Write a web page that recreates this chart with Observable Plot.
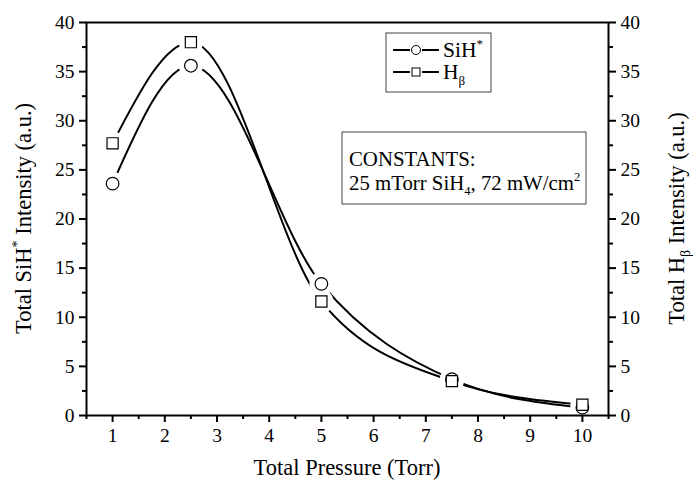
<!DOCTYPE html>
<html><head><meta charset="utf-8">
<script src="https://cdn.jsdelivr.net/npm/d3@7"></script>
<script src="https://cdn.jsdelivr.net/npm/@observablehq/plot@0.6"></script>
<style>
body{margin:0;background:#fff}
svg, svg text, svg tspan{font-family:"Liberation Serif","Times New Roman",serif !important}
</style>
</head><body><div id="chart"></div>
<script>
const pressure = [1, 2.5, 5, 7.5, 10];
const sihValues = [23.6, 35.6, 13.4, 3.7, 0.8];
const hbetaValues = [27.7, 38.0, 11.6, 3.5, 1.1];
const xTicks = [1, 2, 3, 4, 5, 6, 7, 8, 9, 10];
const xMinorTicks = [0.5, 1.5, 2.5, 3.5, 4.5, 5.5, 6.5, 7.5, 8.5, 9.5, 10.5];
const yTicks = [0, 5, 10, 15, 20, 25, 30, 35, 40];
const yMinorTicks = [2.5, 7.5, 12.5, 17.5, 22.5, 27.5, 32.5, 37.5];

const sih = pressure.map((x, i) => ({x, y: sihValues[i]}));
const hb = pressure.map((x, i) => ({x, y: hbetaValues[i]}));

const W = 697, H = 484, mL = 86, mR = 89, mT = 22, mB = 69;

const chart = Plot.plot({
  width: W, height: H,
  marginLeft: mL, marginRight: mR, marginTop: mT, marginBottom: mB,
  style: {fontFamily: "'Liberation Serif', serif", fontSize: "19.5px", color: "#000", background: "#fff", overflow: "visible"},
  x: {domain: [0.5, 10.5]},
  y: {domain: [0, 40]},
  marks: [
    Plot.line(sih, {x: "x", y: "y", curve: "monotone-x", stroke: "#000", strokeWidth: 2}),
    Plot.line(hb, {x: "x", y: "y", curve: "monotone-x", stroke: "#000", strokeWidth: 2}),
    Plot.dot(sih, {x: "x", y: "y", r: 12, fill: "white", stroke: "none"}),
    Plot.dot(hb, {x: "x", y: "y", r: 12, fill: "white", stroke: "none"}),
    Plot.dot(sih, {x: "x", y: "y", r: 6.3, fill: "white", stroke: "#000", strokeWidth: 1.2}),
    Plot.dot(hb, {x: "x", y: "y", symbol: "square", r: 6.3, fill: "white", stroke: "#000", strokeWidth: 1.2}),
    Plot.axisX({ticks: xTicks, tickSize: 7, tickPadding: 6, strokeWidth: 2, label: null, fontSize: 19.5}),
    Plot.axisX({ticks: xMinorTicks, tickSize: 4, strokeWidth: 2, tickFormat: () => "", label: null}),
    Plot.axisY({ticks: yTicks, anchor: "left", tickSize: 7, tickPadding: 5, strokeWidth: 2, label: null, fontSize: 19.5}),
    Plot.axisY({ticks: yMinorTicks, anchor: "left", tickSize: 4, strokeWidth: 2, tickFormat: () => "", label: null}),
    Plot.axisY({ticks: yTicks, anchor: "right", tickSize: 7, tickPadding: 5, strokeWidth: 2, label: null, fontSize: 19.5}),
    Plot.axisY({ticks: yMinorTicks, anchor: "right", tickSize: 4, strokeWidth: 2, tickFormat: () => "", label: null}),
    Plot.frame({stroke: "#000", strokeWidth: 2})
  ]
});
document.getElementById("chart").appendChild(chart);

const svg = d3.select(chart);
const cy = (mT + H - mB) / 2;
function txt(sel) {
  return sel.append("text").attr("fill", "#000").attr("text-anchor", "start");
}

// X title
txt(svg).attr("x", (mL + W - mR) / 2).attr("y", 475)
  .attr("text-anchor", "middle").attr("font-size", 22.5)
  .text("Total Pressure (Torr)");

// Left title
const lt = txt(svg).attr("transform", `translate(31,${cy}) rotate(-90)`)
  .attr("text-anchor", "middle").attr("font-size", 22.5);
lt.append("tspan").text("Total SiH");
lt.append("tspan").attr("dy", -9).attr("font-size", 14).text("*");
lt.append("tspan").attr("dy", 9).text(" Intensity (a.u.)");

// Right title
const rt = txt(svg).attr("transform", `translate(684,${cy}) rotate(-90)`)
  .attr("text-anchor", "middle").attr("font-size", 22.5);
rt.append("tspan").text("Total H");
rt.append("tspan").attr("dy", 6).attr("font-size", 14).text("β");
rt.append("tspan").attr("dy", -6).text(" Intensity (a.u.)");

// Legend box
const lg = svg.append("g");
lg.append("rect").attr("x", 386).attr("y", 33).attr("width", 105).attr("height", 59)
  .attr("fill", "white").attr("stroke", "#444").attr("stroke-width", 1);
const rows = [{y: 50, sym: "circle", lab: "SiH", sup: "*"}, {y: 72, sym: "square", lab: "H", sub: "β"}];
rows.forEach(r => {
  lg.append("line").attr("x1", 393).attr("x2", 410).attr("y1", r.y).attr("y2", r.y).attr("stroke", "#000").attr("stroke-width", 2);
  lg.append("line").attr("x1", 422).attr("x2", 439).attr("y1", r.y).attr("y2", r.y).attr("stroke", "#000").attr("stroke-width", 2);
  if (r.sym === "circle") lg.append("circle").attr("cx", 416).attr("cy", r.y).attr("r", 4.5).attr("fill", "white").attr("stroke", "#000");
  else lg.append("rect").attr("x", 412).attr("y", r.y - 4).attr("width", 8).attr("height", 8).attr("fill", "white").attr("stroke", "#000");
  const t = txt(lg).attr("x", 443).attr("y", r.y + 7).attr("font-size", 21.5);
  t.append("tspan").text(r.lab);
  if (r.sup) t.append("tspan").attr("dy", -9).attr("font-size", 13).text(r.sup);
  if (r.sub) t.append("tspan").attr("dy", 6).attr("font-size", 13).text(r.sub);
});

// Constants box
const cb = svg.append("g");
cb.append("rect").attr("x", 342).attr("y", 132).attr("width", 244).attr("height", 72)
  .attr("fill", "white").attr("stroke", "#444").attr("stroke-width", 1);
txt(cb).attr("x", 349).attr("y", 166).attr("font-size", 20.8).text("CONSTANTS:");
const c2 = txt(cb).attr("x", 349).attr("y", 190).attr("font-size", 20.8);
c2.append("tspan").text("25 mTorr SiH");
c2.append("tspan").attr("dy", 5).attr("font-size", 12.5).text("4");
c2.append("tspan").attr("dy", -5).text(", 72 mW/cm");
c2.append("tspan").attr("dy", -9).attr("font-size", 12.5).text("2");
</script>
</body></html>
